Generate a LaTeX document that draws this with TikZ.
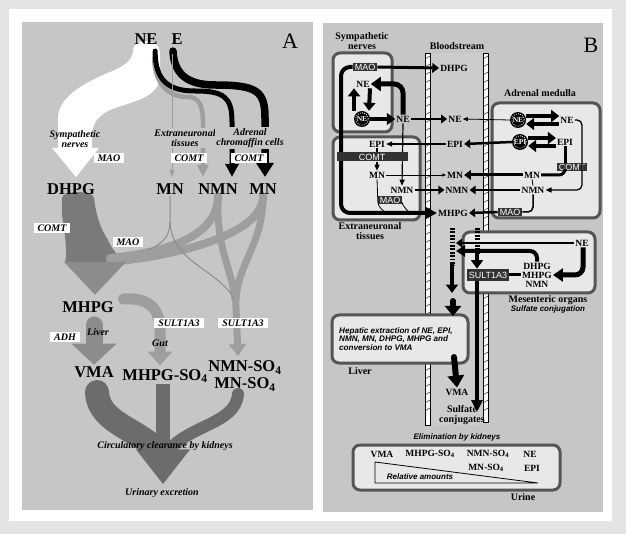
\documentclass[tikz,border=0pt]{standalone}
\usepackage{fontspec}
\setmainfont{Liberation Serif}
\newfontfamily\sansf{Liberation Sans}
\usetikzlibrary{calc}
\usetikzlibrary{arrows.meta}

\definecolor{frameg}{HTML}{E4E4E4}
\definecolor{panelg}{HTML}{C6C6C6}
\definecolor{bloodg}{HTML}{CCCCCC}
\definecolor{flowlt}{HTML}{9E9E9E}
\definecolor{flowmd}{HTML}{8C8C8C}
\definecolor{flowdk}{HTML}{7A7A7A}
\definecolor{flowxd}{HTML}{6C6C6C}
\definecolor{cellfill}{HTML}{E8E8E8}
\definecolor{cellline}{HTML}{555555}
\definecolor{boxdark}{HTML}{333333}

\pgfdeclarelayer{back}
\pgfdeclarelayer{flow}
\pgfsetlayers{back,flow,main}

\tikzset{
  big/.style={font=\fontsize{16.5}{17}\selectfont\bfseries, inner sep=1.5pt},
  lab/.style={font=\fontsize{10}{10.5}\selectfont\bfseries\itshape, align=center, inner sep=1pt},
  wbox/.style={fill=white, font=\fontsize{10}{10}\selectfont\bfseries\itshape, inner xsep=4pt, inner ysep=1.5pt},
  bnode/.style={font=\fontsize{9.5}{9.5}\selectfont\bfseries, inner sep=1pt},
  bhead/.style={font=\fontsize{10}{9.5}\selectfont\bfseries, align=center, inner sep=1pt},
  dbox/.style={fill=boxdark, text=white, font=\sansf\fontsize{9}{9}\selectfont, inner xsep=2pt, inner ysep=0.8pt},
  stxt/.style={font=\sansf\fontsize{8}{9}\selectfont\bfseries\itshape, inner sep=1pt},
  cell/.style={draw=cellline, line width=3pt, rounded corners=7pt, fill=cellfill},
  ves/.style={circle, fill=black, text=white, inner sep=0pt, minimum size=16pt, font=\fontsize{7.5}{7.5}\selectfont\bfseries},
  wall/.style={draw=black, fill=white, line width=0.5pt},
  arr/.style={-{Triangle[width=3pt 2.2, length=2pt 1.6]}},
  blk/.style={line width=4pt, -{Triangle[width=12pt, length=8pt]}},
}

\begin{document}
\begin{tikzpicture}[x=1pt,y=-1pt]
\useasboundingbox (0,0) rectangle (626,534);

\begin{pgfonlayer}{back}
\fill[frameg] (0,0) rectangle (626,534);
\fill[white] (9,9) rectangle (612,521);
\fill[panelg] (22,22) rectangle (313,510);
\fill[panelg] (323,23) rectangle (603,512);
\fill[bloodg] (430,53) rectangle (483,425);
\foreach \wx/\wb in {425/425, 483/422} {
  \draw[wall] (\wx,53) rectangle (\wx+5,\wb);
  \foreach \wy in {59,67,...,418}
    \draw[line width=0.4pt] (\wx,\wy) -- (\wx+5,\wy-3);
}
\draw[cell] (333,53) rectangle (392,132);
\draw[cell] (333,137) rectangle (420,220);
\draw[cell] (492,103) rectangle (600,218);
\draw[cell] (463,232) rectangle (595,293);
\draw[cell] (332,315) rectangle (468,363);
\draw[cell] (353,445) rectangle (560,490);
\end{pgfonlayer}

% panel A
\node[big] (NE) at (146,39) {NE};
\node[big] (E) at (177,39) {E};
\node[font=\fontsize{22}{22}\selectfont] (A) at (290,41) {A};
\node[big] (DHPG) at (71,189) {DHPG};
\node[big] (MNe) at (170,189) {MN};
\node[big] (NMN) at (218,189) {NMN};
\node[big] (MNa) at (263,189) {MN};
\node[big] (MHPG) at (88,307) {MHPG};
\node[big] (VMA) at (94,372) {VMA};
\node[big] (MHPGS) at (165,376) {MHPG-SO\textsubscript{4}};
\node[big, align=center] (NMNS) at (245,376) {NMN-SO\textsubscript{4}\\MN-SO\textsubscript{4}};

\node[lab] (symp) at (75,139) {Sympathetic\\nerves};
\node[lab, fill=panelg] (extra) at (185,138) {Extraneuronal\\tissues};
\node[lab, fill=panelg] (adren) at (250,138) {Adrenal\\chromaffin cells};
\node[wbox] (maoA) at (109,158) {MAO};
\node[wbox] (comtE) at (189,158) {COMT};
\node[wbox] (comtA) at (249,158) {COMT};
\node[wbox] (comtD) at (52,228) {COMT};
\node[wbox] (maoB) at (128,242) {MAO};
\node[wbox] (adh) at (65,337) {ADH};
\node[lab] (liv) at (98,332) {Liver};
\node[lab] (gut) at (160,343) {Gut};
\node[wbox] (sultA) at (179,323) {SULT1A3};
\node[wbox] (sultB) at (243,323) {SULT1A3};
\node[lab] (clear) at (165,446) {Circulatory clearance by kidneys};
\node[lab] (urin) at (162,493) {Urinary excretion};

\begin{pgfonlayer}{flow}
\fill[white] (58,148) -- (58,118) .. controls (58,95) and (90,80) .. (115,70)
  .. controls (128,64) and (133,58) .. (133,50) .. controls (133,38) and (160,38) .. (160,52)
  -- (160,75) .. controls (160,95) and (140,100) .. (115,108)
  .. controls (98,114) and (92,124) .. (92,135) -- (92,148) -- (99,148) -- (76,177) -- (52,148) -- cycle;
\draw[flowlt, line width=4.5pt, line cap=round, -{Triangle[width=11pt,length=12pt]}]
  ($(NE.south east)+(-5,12)$) .. controls (155,88) and (172,97) .. (188,97)
  .. controls (199,97) and (203,106) .. (203,122) -- ($(NMN.north)+(-15,-5)$);
\draw[black, line width=5pt, line cap=round, -{Triangle[width=13pt,length=13pt]}]
  ($(NE.south east)+(-4,5)$) .. controls (155,82) and (170,91) .. (195,91)
  .. controls (224,91) and (232,97) .. (232,122) -- ($(NMN.north)+(14,-5)$);
\draw[black, line width=7.5pt, line cap=round, -{Triangle[width=17pt,length=14pt]}]
  ($(E.south)+(-4,5)$) .. controls (174,76) and (190,85) .. (215,85)
  .. controls (257,85) and (265,91) .. (265,118) -- ($(MNa.north)+(2,-5)$);
\draw[flowlt, line width=1pt, -{Triangle[width=5pt,length=7pt]}]
  ($(E.south)+(-5,8)$) -- ($(MNe.north)+(2,-5)$);

\fill[flowdk] (62,198) .. controls (62,190) and (94,190) .. (94,198)
  .. controls (96,215) and (100,228) .. (108,240) .. controls (112,250) and (118,255) .. (125,263)
  -- (65,263) .. controls (68,250) and (64,230) .. (62,215) -- cycle;
\draw[flowlt, line width=8pt, line cap=round] (NMN.south) .. controls (218,235) and (170,252) .. (110,258);
\draw[flowlt, line width=8pt, line cap=round] (MNa.south) .. controls (263,235) and (175,256) .. (110,262);
\draw[flowlt, line width=7pt] (NMN.south) .. controls (216,250) and (232,268) .. (235,300);
\draw[flowlt, line width=7pt] (MNa.south) .. controls (263,245) and (238,262) .. (236,300);
\draw[flowlt, line width=7pt, -{Triangle[width=17pt,length=12pt]}] (235.5,296) -- ($(NMNS.north)+(-7,-3)$);
\draw[flowmd, line width=1pt] (MNe.south) -- (170,222) .. controls (170,238) and (160,245) .. (148,250);
\draw[flowmd, line width=1pt] (170,222) .. controls (172,262) and (215,268) .. (234,298);
\fill[flowmd] (64,262) -- (126,262) -- ($(MHPG.north)+(7,-5)$) -- cycle;

\draw[flowlt, line width=11pt, line cap=round, -{Triangle[width=24pt,length=14pt]}]
  ($(MHPG.east)+(8,-8)$) .. controls (150,297) and (160,310) .. (160,330) -- ($(MHPGS.north)+(-5,-2)$);
\draw[flowmd, line width=17pt, line cap=round, -{Triangle[width=44pt,length=21pt]}]
  (94,325) -- (VMA.north);

\draw[flowxd, line width=24pt, line cap=round] (97,392) .. controls (98,425) and (145,430) .. (160,455);
\draw[flowxd, line width=14pt] (163,384) -- (163,455);
\draw[flowxd, line width=12pt, line cap=round] (238,394) .. controls (236,425) and (185,425) .. (165,455);
\draw[flowxd, line width=20pt, -{Triangle[width=52pt,length=35pt]}] (163,440) -- ($(urin.north)+(1,-3)$);
\end{pgfonlayer}

% panel B
\node[font=\fontsize{22}{22}\selectfont] (B) at (591,45) {B};
\node[bhead] (symph) at (362,41) {Sympathetic\\nerves};
\node[bhead] (blood) at (457,46) {Bloodstream};
\node[bhead] (adrh) at (540,93) {Adrenal medulla};
\node[bhead] (extrh) at (370,231) {Extraneuronal\\tissues};
\node[bhead] (mes) at (548,300) {Mesenteric organs};
\node[stxt] (sulfc) at (548,309) {Sulfate conjugation};
\node[bhead] (livh) at (360,371) {Liver};
\node[bhead] (urh) at (523,497) {Urine};
\node[stxt] (elim) at (457,437) {Elimination by kidneys};
\node[stxt, font=\sansf\fontsize{8.1}{8.6}\selectfont\bfseries\itshape, align=left, anchor=west] (hep) at (338,339)
  {Hepatic extraction of NE, EPI,\\NMN, MN, DHPG, MHPG and\\conversion to VMA};

\node[dbox] (MAOs) at (365,67) {MAO};
\node[bnode] (DHPGb) at (454,68) {DHPG};
\node[bnode] (NEsy) at (363,84) {NE};
\node[ves] (vesS) at (362,119) {NE};
\node[bnode] (NEout) at (403,119) {NE};
\node[bnode] (NEb) at (455,119) {NE};
\node[bnode] (EPIx) at (377,144) {EPI};
\node[bnode] (EPIb) at (455,144) {EPI};
\node[dbox, minimum width=71pt, minimum height=9pt] (COMTx) at (372,157) {COMT};
\node[bnode] (MNx) at (377,175) {MN};
\node[bnode] (MNb) at (455,175) {MN};
\node[bnode] (NMNx) at (402,190) {NMN};
\node[bnode] (NMNb) at (457,190) {NMN};
\node[dbox] (MAOx) at (390,200) {MAO};
\node[bnode] (MHPGb) at (453,213) {MHPG};

\node[ves] (vesNEa) at (518,120) {NE};
\node[bnode] (NEad) at (567,120) {NE};
\node[ves] (vesEPIa) at (520,142) {EPI};
\node[bnode] (EPIad) at (565,142) {EPI};
\node[dbox] (COMTad) at (572,167) {COMT};
\node[bnode] (MNad) at (532,175) {MN};
\node[bnode] (NMNad) at (533,190) {NMN};
\node[dbox] (MAOad) at (510,212) {MAO};

\node[bnode] (NEm) at (582,243) {NE};
\node[bnode] (DHPGm) at (537,266) {DHPG};
\node[bnode] (MHPGm) at (537,275) {MHPG};
\node[bnode] (NMNm) at (537,284) {NMN};
\node[dbox, inner ysep=3pt] (SULT) at (488,275) {SULT1A3};

\node[bnode] (VMAb) at (457,392) {VMA};
\node[bhead, align=center] (sulf) at (462,415) {Sulfate\\conjugates};

\node[bnode] (uVMA) at (382,454) {VMA};
\node[bnode] (uMHPG) at (430,454) {MHPG-SO\textsubscript{4}};
\node[bnode] (uNMN) at (488,454) {NMN-SO\textsubscript{4}};
\node[bnode] (uMN) at (486,468) {MN-SO\textsubscript{4}};
\node[bnode] (uNE) at (530,454) {NE};
\node[bnode] (uEPI) at (532,468) {EPI};
\node[stxt] (rel) at (420,477) {Relative amounts};
\draw[line width=0.8pt] (375,462) -- (375,483) -- (538,483) -- cycle;

\foreach \v in {vesS, vesNEa, vesEPIa}
  \draw[white, line width=0.8pt, dash pattern=on 0.8pt off 1.4pt] (\v.center) circle (6.2pt);

\coordinate (inNE) at (456,243);
\coordinate (inDH) at (456,251);
\coordinate (portal) at (452,293);
\coordinate (livTop) at (453,316);
\coordinate (sulfTip) at (477,412);

\begin{pgfonlayer}{flow}
\draw[line width=4pt, rounded corners=9pt, -{Triangle[width=12pt,length=12pt]}]
  (MAOs.west) -- (341,67) -- (341,213) -- (MHPGb.west);
\draw[line width=1.2pt, -{Triangle[width=5pt,length=6pt]}] (NEout.south) -- (NMNx.north);
\end{pgfonlayer}

\draw[arr, line width=3pt] (MAOs.east) -- (DHPGb.west);
\draw[blk] ([xshift=-8pt]vesS.north) -- ([xshift=-9pt]NEsy.south);
\draw[blk] ([xshift=7pt]NEsy.south) -- ([xshift=7pt]vesS.north);
\draw[arr, line width=4pt] (vesS.east) -- (NEout.west);
\draw[line width=5pt, rounded corners=9pt, -{Triangle[width=14pt,length=10pt]}] (NEout.north) |- (NEsy.east);
\draw[arr, line width=2.5pt] (NEout.east) -- (NEb.west);

\draw[line width=1.3pt, -{Triangle[width=5pt,length=6pt]}] (EPIb.west) -- (EPIx.east);
\draw[line width=1.2pt] (EPIx.south) -- (COMTx.north -| EPIx.south);
\draw[line width=1.2pt, -{Triangle[width=5pt,length=6pt]}] (COMTx.south -| MNx.north) -- (MNx.north);
\draw[line width=0.6pt, -{Triangle[width=3pt,length=3.5pt]}] (MNx.east) -- (MNb.west);
\draw[arr, line width=2.5pt] (NMNx.east) -- (NMNb.west);
\draw[line width=0.8pt, rounded corners=4pt] (MNx.south) -- (378,206) -- (386,213);
\draw[line width=0.8pt, rounded corners=4pt] (MAOx.south east) -- (403,206) -- (410,213);

\draw[blk] ([yshift=4pt]vesNEa.east) -- ([yshift=4pt]NEad.west);
\draw[blk] ([yshift=-4pt]NEad.west) -- ([yshift=-4pt]vesNEa.east);
\draw[blk] ([yshift=4pt]vesEPIa.east) -- ([yshift=4pt]EPIad.west);
\draw[blk] ([yshift=-4pt]EPIad.west) -- ([yshift=-4pt]vesEPIa.east);
\draw[line width=0.8pt, -{Triangle[width=4pt,length=5pt]}] (vesNEa.west) -- (NEb.east);
\draw[arr, line width=2.5pt] (vesEPIa.west) -- (EPIb.east);
\draw[line width=1.3pt, rounded corners=5pt, -{Triangle[width=5pt,length=6pt]}] (NEad.east) -| (582,180) |- (NMNad.east);
\draw[line width=3pt] (EPIad.south) -- (COMTad.north -| EPIad.south);
\draw[line width=3pt, rounded corners=6pt] (COMTad.south -| EPIad.south) |- (MNad.east);
\draw[line width=0.8pt] (MNad.south) -- (NMNad.north);
\draw[arr, line width=3pt] (MNad.west) -- (MNb.east);
\draw[arr, line width=2.5pt] (NMNad.west) -- (NMNb.east);
\draw[line width=1.5pt, rounded corners=5pt] (NMNad.south) |- (MAOad.east);
\draw[arr, line width=2.5pt] (MAOad.west) -- (MHPGb.east);

\draw[arr, line width=2.5pt] (NEm.west) -- (inNE);
\draw[line width=4pt, rounded corners=7pt, -{Triangle[width=11pt,length=9pt]}] (DHPGm.north) |- (inDH);
\draw[line width=5pt, rounded corners=8pt, -{Triangle[width=13pt,length=10pt]}] ($(NEm.south)+(1,0)$) |- (MHPGm.east);
\draw[line width=3pt] (MHPGm.west) -- (SULT.east);
\draw[line width=5pt, dash pattern=on 1.8pt off 1.6pt] (452,228) -- (452,266);
\draw[arr, line width=4pt] (452,264) -- (portal);
\draw[line width=6pt, line cap=round, -{Triangle[width=16pt,length=10pt]}] (453,301) -- (livTop);
\draw[line width=5pt, dash pattern=on 1.8pt off 1.6pt] (477,228) -- (477,255);
\draw[arr, line width=4pt] (477,253) -- ([xshift=-11pt]SULT.north);
\draw[line width=4pt, -{Triangle[width=11pt,length=12pt]}] ([xshift=-11pt]SULT.south) -- (sulfTip);
\draw[line width=6pt, line cap=round, -{Triangle[width=16pt,length=12pt]}] (454,357) -- (VMAb.north);

\end{tikzpicture}
\end{document}
